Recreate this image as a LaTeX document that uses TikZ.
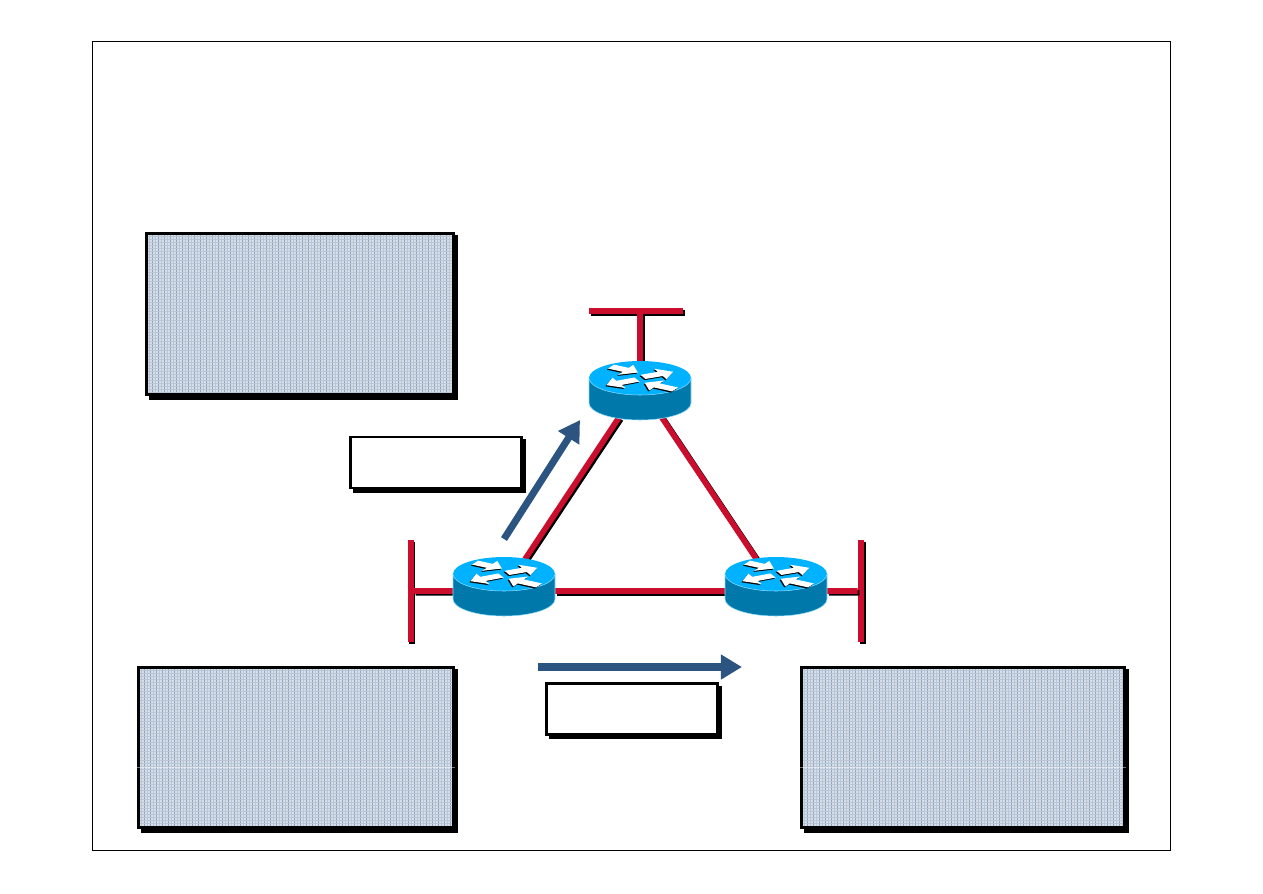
\documentclass[tikz,border=0pt]{standalone}
\usetikzlibrary{arrows.meta, positioning, shapes.geometric, shadows}
\usepackage{xcolor}

\definecolor{linkred}{RGB}{204,14,46}
\definecolor{flowblue}{RGB}{44,84,128}
\definecolor{routertop}{RGB}{0,178,255}
\definecolor{routerside}{RGB}{0,120,170}
\definecolor{gridbase}{RGB}{214,222,232}
\definecolor{griddark}{RGB}{140,165,195}
\definecolor{gridlight}{RGB}{184,198,214}

\begin{document}
\begin{tikzpicture}[
    x=0.5669pt,
    y=-0.5669pt,
    boxed shadow/.style={general shadow={fill=black, draw=black, shadow xshift=2pt, shadow yshift=-2pt}},
    grid panel/.style={rectangle, draw=black, line width=1.6pt, fill=gridbase, inner sep=0pt, boxed shadow,
        path picture={
            \foreach \k in {0,...,110} {
                \draw[griddark, line width=0.5pt] ([xshift=3.4*\k pt]path picture bounding box.north west) -- ++(0,-200pt);
                \draw[gridlight, line width=0.4pt] ([xshift=3.4*\k pt+1.7pt]path picture bounding box.north west) -- ++(0,-200pt);
            }
            \foreach \k in {0,...,60} {
                \draw[gridlight, line width=0.5pt] ([yshift=-1.7*\k pt]path picture bounding box.north west) -- ++(200pt,0);
            }
        }},
    label box/.style={rectangle, draw=black, line width=1.5pt, fill=white, inner sep=0pt, boxed shadow},
    segment bar/.style={rectangle, fill=linkred, inner sep=0pt,
        general shadow={fill=black, shadow xshift=1.1pt, shadow yshift=-1.1pt}},
    router node/.style={shape=ellipse, inner sep=0pt, outer sep=0pt, minimum width=57.8pt, minimum height=33.4pt},
    red link/.style={draw=linkred, line width=3.2pt,
        preaction={draw=black, line width=3.2pt, transform canvas={shift={(1pt,-1pt)}}}},
    flow arrow/.style={draw=flowblue, line width=4pt, -{Triangle[length=12pt, width=13.5pt]}},
    router icon/.pic={
        % body and top face
        \fill[routerside] (-51,0) -- (-51,25) arc[start angle=180, end angle=0, x radius=51, y radius=17] -- (51,0) -- cycle;
        \draw[routertop!45!white, line width=0.3pt] (-51,0) -- (-51,25) arc[start angle=180, end angle=0, x radius=51, y radius=17] -- (51,0);
        \fill[routertop] (0,0) ellipse[x radius=51, y radius=17];
        \draw[routertop!45!white, line width=0.3pt] (-51,0) arc[start angle=180, end angle=0, x radius=51, y radius=17];
        % four arrows on the top face, black copy first
        \foreach \off/\col in {1/black, 0/white} {
            \foreach \tx/\ty/\ang/\len in {-29/-30/-30/31, 3/-3/24/33, -3/4/206/34, 35/30/150/35} {
                \begin{scope}[yscale=0.38, shift={(\tx-\off,\ty+3*\off)}, rotate=\ang]
                    \fill[\col] (0,-6) -- (\len-14,-6) -- (\len-14,-15) -- (\len,0) -- (\len-14,15) -- (\len-14,6) -- (0,6) -- cycle;
                \end{scope}
            }
        }
    }
]
    \useasboundingbox (0,0) rectangle (1263,893);

    % Outer frame
    \node[rectangle, draw=black, line width=0.6pt, minimum width=611pt, minimum height=459pt, inner sep=0pt] (frame) at (631.5,446) {};

    % Grid panels
    \node[grid panel, minimum width=174pt, minimum height=91.5pt] (panelTop) at (300,314) {};
    \node[grid panel, minimum width=178.5pt, minimum height=91pt] (panelLeft) at (296,747.5) {};
    \node[grid panel, minimum width=183pt, minimum height=91pt] (panelRight) at (963,747.5) {};
    \draw[white, opacity=0.45, line width=0.8pt] ([yshift=-11.3pt]panelLeft.west) -- ([yshift=-11.3pt]panelLeft.east);
    \draw[white, opacity=0.45, line width=0.8pt] ([yshift=-11.3pt]panelRight.west) -- ([yshift=-11.3pt]panelRight.east);

    % Label boxes
    \node[label box, minimum width=97pt, minimum height=29pt] (boxUp) at (436,462.5) {};
    \node[label box, minimum width=97pt, minimum height=29pt] (boxRight) at (632,709) {};

    % LAN segments
    \node[segment bar, minimum width=53.5pt, minimum height=3.4pt] (segTop) at (636,311) {};
    \node[segment bar, minimum width=3.4pt, minimum height=57.5pt] (segLeft) at (410.5,591) {};
    \node[segment bar, minimum width=3.4pt, minimum height=57.5pt] (segRight) at (861,591) {};

    % Routers
    \node[router node] (routerTop) at (640,390.5) {};
    \node[router node] (routerLeft) at (504,586) {};
    \node[router node] (routerRight) at (776,586) {};

    % Links
    \draw[red link] (routerLeft.52) -- (routerTop.232);
    \draw[red link] (routerTop.309) -- (routerRight.126);
    \draw[red link] ([yshift=-2.8pt]routerLeft.east) -- ([yshift=-2.8pt]routerRight.west);
    \draw[red link] (segLeft.east |- 0,591) -- ([yshift=-2.8pt]routerLeft.west);
    \draw[red link] ([yshift=-2.8pt]routerRight.east) -- (segRight.west |- 0,591);
    \draw[red link, line width=3.4pt] (segTop.south -| routerTop.north) -- (routerTop.north);

    % Router icons go over the link ends
    \pic at (640,378) {router icon};
    \pic at (504,574) {router icon};
    \pic at (776,574) {router icon};

    % Flow arrows
    \coordinate (upTail) at (504,539);
    \coordinate (upHead) at (580,420);
    \coordinate (rightTail) at (538,667);
    \coordinate (rightHead) at (742,667);
    \draw[flow arrow] (upTail) -- (upHead);
    \draw[flow arrow] (rightTail) -- (rightHead);
\end{tikzpicture}
\end{document}
